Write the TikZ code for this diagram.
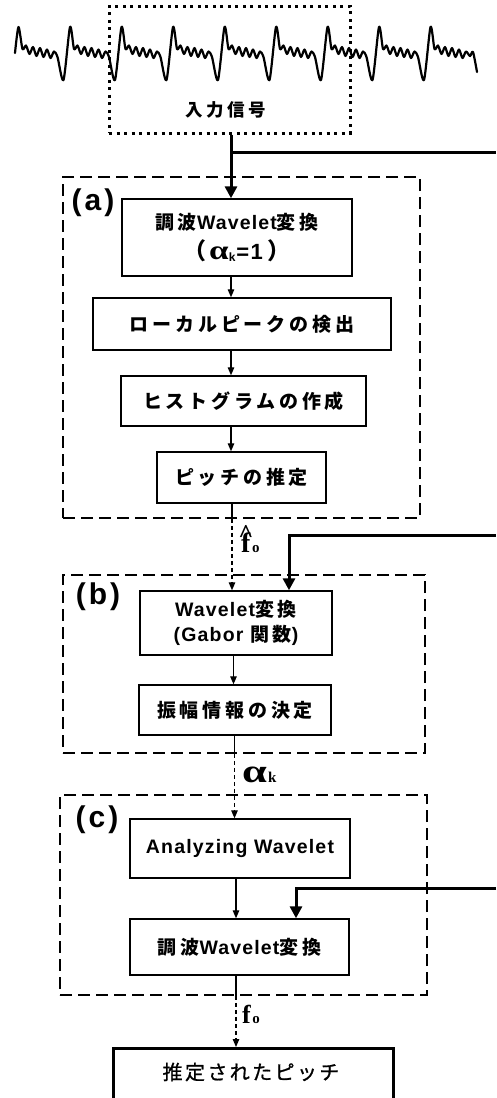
\documentclass[tikz,border=0pt]{standalone}
\usepackage{fontspec}
\usetikzlibrary{arrows.meta}
\newfontfamily\jp{Noto Sans CJK JP}[LetterSpace=20]
\newfontfamily\jpr{Noto Sans CJK JP}[LetterSpace=12, FakeBold=1]
\newfontfamily\jpn{Noto Sans CJK JP}
\newfontfamily\la{Liberation Sans}[LetterSpace=6]
\newfontfamily\lab{Liberation Sans}[LetterSpace=10]
\newfontfamily\sr{Liberation Serif}
\newcommand\jtxt[1]{{\jp\bfseries #1}}
\newcommand\latt[1]{{\la\bfseries\fontsize{19.5}{24}\selectfont #1}}
\newcommand\boxfont{\fontsize{19}{24}\selectfont}
% signal points
\def\sigpts{(15,53)}
\foreach \p in {18.5,70,121.5,173,224.5,276,327.5,379} {
  \xdef\sigpts{\sigpts (\p,27) (\p+4,49) (\p+7.5,45.5) (\p+11,54) (\p+14.5,47)
    (\p+18,56) (\p+21.5,48) (\p+25,57) (\p+28.5,49.5) (\p+32,58) (\p+35.5,51.5)
    (\p+39,57) (\p+45,80)}
}
\xdef\sigpts{\sigpts (430.5,27) (434.5,49) (438,45.5) (441.5,54) (445,47) (448.5,56)
  (452,48) (455.5,57) (459,49.5) (462.5,58) (466,51.5) (470,56) (473,52) (477,72)}
\tikzset{
  signal/.style={line width=2.2pt, line join=round, line cap=round},
  dotbox/.style={draw, line width=3pt, dash pattern=on 3pt off 4.5pt, inner sep=0pt},
  group/.style={draw, line width=1.8pt, dash pattern=on 12pt off 6pt, inner sep=0pt},
  stepbox/.style 2 args={draw, line width=1.4pt, minimum width=#1pt, minimum height=#2pt, inner sep=0pt, align=center, font=\boxfont},
  grouplabel/.style={inner sep=0pt, font=\lab\bfseries\fontsize{30}{30}\selectfont},
  thinarr/.style={line width=1.2pt, -{Triangle[width=6.5pt,length=8pt]}},
  thinline/.style={line width=1.2pt},
  dasharr/.style={line width=1.2pt, dash pattern=on 4pt off 3pt, -{Triangle[width=6.5pt,length=8pt]}},
  thickline/.style={line width=3pt},
  thickarr/.style={line width=3pt, -{Triangle[width=12pt,length=12pt]}},
  sigsym/.style={inner sep=0pt, font=\sr\bfseries}
}
\begin{document}
\begin{tikzpicture}[x=1pt,y=-1pt]
\useasboundingbox (0,0) rectangle (496,1098);
\clip (0,0) rectangle (496,1098);

% input signal
\edef\drawsignal{\noexpand\draw[signal] plot[smooth, tension=0.45] coordinates {\sigpts};}
\drawsignal

\node[dotbox, minimum width=241pt, minimum height=127pt] (input) at (229.5,69.5) {};
\node[inner sep=0pt, font=\jp\bfseries\fontsize{17.5}{20}\selectfont] (inlabel) at (226,110) {入力信号};

% spine coordinates
\coordinate (xa) at (231,0);
\coordinate (xab) at (232,0);
\coordinate (xb) at (233.5,0);
\coordinate (xbc) at (234.5,0);
\coordinate (xc) at (236,0);

% group (a)
\node[group, minimum width=357pt, minimum height=341pt] (ga) at (241.5,347.5) {};
\node[grouplabel] (la) at (93,203) {(a)};
\node[stepbox={230}{77}, font=\fontsize{19}{30}\selectfont] (a1) at (237,237.5)
  {\jtxt{調波}\latt{Wavelet}\jtxt{変換}\\
   {\jpn\bfseries\fontsize{23}{23}\selectfont （}\kern3pt{\sr\bfseries\fontsize{27}{27}\selectfont\scalebox{1.3}[1]{α}}\raisebox{-2pt}{\latt{\fontsize{12}{12}\selectfont k}}\kern1pt{\la\bfseries\fontsize{22}{22}\selectfont =1}\kern5pt{\jpn\bfseries\fontsize{23}{23}\selectfont ）}};
\node[stepbox={298}{52}] (a2) at (242,324) {\jtxt{ローカルピークの検出}};
\node[stepbox={245}{50}] (a3) at (243.5,401) {\jtxt{ヒストグラムの作成}};
\node[stepbox={169}{51}] (a4) at (241.5,477.5) {\jtxt{ピッチの推定}};

% group (b)
\node[group, minimum width=362pt, minimum height=178pt] (gb) at (244,664) {};
\node[grouplabel] (lb) at (98,597) {(b)};
\node[stepbox={192}{64}, font=\fontsize{19}{25}\selectfont] (b1) at (236,623)
  {\latt{Wavelet}\jtxt{変換}\\ \latt{(Gabor }\jtxt{関数}\latt{)}};
\node[stepbox={192}{50}] (b2) at (235,710) {\jtxt{振幅情報の決定}};

% group (c)
\node[group, minimum width=367pt, minimum height=200pt] (gc) at (243.5,895) {};
\node[grouplabel] (lc) at (97,820) {(c)};
\node[stepbox={220}{59}] (c1) at (240,848.5) {\latt{Analyzing Wavelet}};
\node[stepbox={219}{56}] (c2) at (239.5,947) {\jtxt{調波}\latt{Wavelet}\jtxt{変換}};

% result
\node[draw, line width=3pt, minimum width=280pt, minimum height=64pt, inner sep=0pt,
      anchor=north] (res) at (253,1047) {};
\node[inner sep=0pt, font=\jpr\fontsize{20}{22}\selectfont] (restext) at (251,1072) {推定されたピッチ};

% main input arrow and taps
\coordinate (tap1) at (231,152);
\coordinate (edge1) at (496,152);
\coordinate (tap2) at (289,535);
\coordinate (edge2) at (496,535);
\coordinate (tap3) at (296,888);
\coordinate (edge3) at (496,888);
\draw[thickarr] (input.south -| xa) -- (a1.north -| xa);
\draw[thickline] (tap1) -- (edge1);
\draw[thickarr] (edge2) -| (b1.north -| tap2);
\draw[thickarr] (edge3) -| (c2.north -| tap3);

% group (a) flow
\draw[thinarr] (a1.south -| xa) -- (a2.north -| xa);
\draw[thinarr] (a2.south -| xa) -- (a3.north -| xa);
\draw[thinarr] (a3.south -| xa) -- (a4.north -| xa);
\draw[thinline] (a4.south -| xab) -- (ga.south -| xab);
\draw[dasharr] (ga.south -| xab) -- (b1.north -| xab);

% group (b) flow
\draw[thinarr] (b1.south -| xb) -- (b2.north -| xb);
\draw[thinline] (b2.south -| xbc) -- (gb.south -| xbc);
\draw[dasharr] (gb.south -| xbc) -- (c1.north -| xbc);

% group (c) flow
\draw[thinarr] (c1.south -| xc) -- (c2.north -| xc);
\draw[thinline] (c2.south -| xc) -- (gc.south -| xc);
\draw[dasharr] (gc.south -| xc) -- (res.north -| xc);

% signal labels
\node[sigsym, anchor=base west] (fhat) at (241,552)
  {\fontsize{28}{28}\selectfont\makebox[0pt][l]{\makebox[9.5pt]{\raisebox{10pt}{\fontsize{26}{26}\selectfont\textasciicircum}}}f\kern1.5pt{\fontsize{15}{15}\selectfont o}};
\node[sigsym, anchor=base west] (alk) at (242,782)
  {\fontsize{33}{33}\selectfont\scalebox{1.35}[1]{α}\kern1pt{\fontsize{15}{15}\selectfont k}};
\node[sigsym, anchor=base west] (fo) at (242,1023)
  {\fontsize{26}{26}\selectfont f\kern1.5pt{\fontsize{15}{15}\selectfont o}};
\end{tikzpicture}
\end{document}
